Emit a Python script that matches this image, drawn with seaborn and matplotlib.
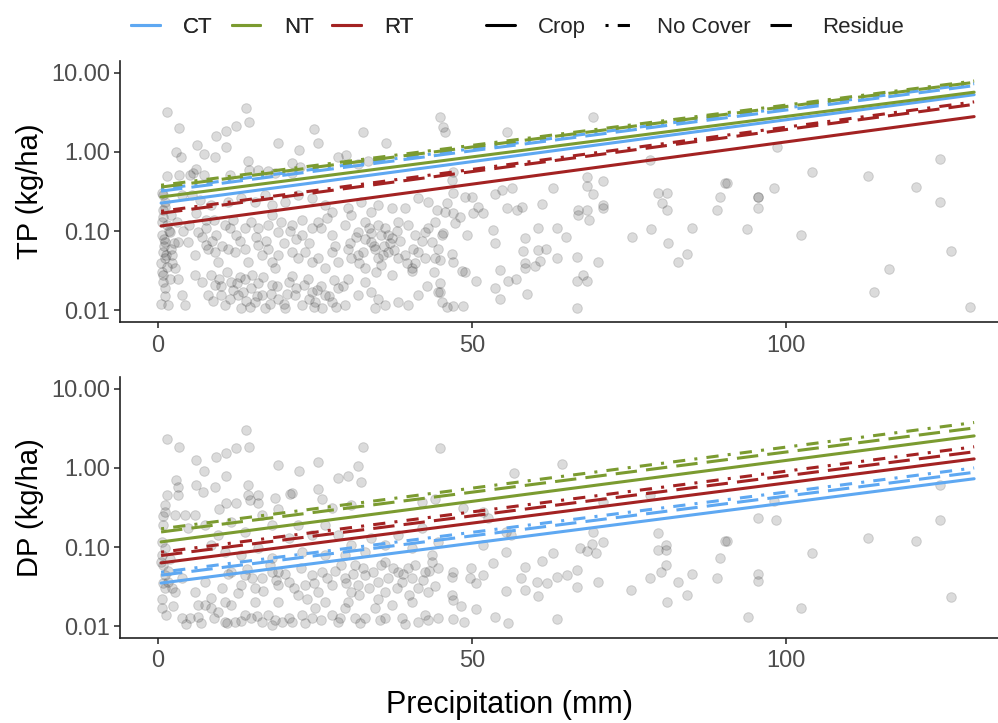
import numpy as np
import pandas as pd
import matplotlib
matplotlib.use("Agg")
import matplotlib.pyplot as plt
import seaborn as sns
from matplotlib.lines import Line2D

# ---------------- data ----------------
tillages = ["CT", "NT", "RT"]
covers = ["Crop", "No Cover", "Residue"]
tillage_colors = ["#5EA8F2", "#7B9B30", "#A32222"]

fit_precip = [0.5, 130.0]
# fitted TP (kg/ha) at start / end of precipitation range, per tillage x cover
tp_fit_start = {"CT": [0.226, 0.34, 0.32], "NT": [0.27, 0.38, 0.36], "RT": [0.116, 0.178, 0.168]}
tp_fit_end = {"CT": [5.3, 7.3, 6.9], "NT": [5.7, 7.9, 7.6], "RT": [2.8, 4.3, 4.0]}
# fitted DP (kg/ha)
dp_fit_start = {"CT": [0.035, 0.048, 0.044], "NT": [0.116, 0.17, 0.155], "RT": [0.063, 0.086, 0.078]}
dp_fit_end = {"CT": [0.73, 1.0, 0.88], "NT": [2.54, 3.75, 3.2], "RT": [1.3, 1.85, 1.6]}

tp_points = [
    (1.5, 3.2), (14.1, 3.6), (14.5, 2.4), (3.3, 2.0), (9.3, 1.6), (10.8, 1.85), (12.4, 2.13),
    (24.9, 1.95), (32.7, 1.78), (6.2, 1.23), (10.8, 1.17), (19.1, 1.29), (22.5, 1.06), (25.5, 1.29),
    (36.3, 1.29), (2.8, 1.0), (3.7, 0.87), (7.3, 0.93), (9.1, 0.86), (14.4, 0.77), (28.6, 0.86),
    (30.0, 0.92), (33.4, 0.77), (31.9, 0.70), (6.0, 0.61), (5.6, 0.54), (1.5, 0.49), (3.3, 0.51),
    (5.1, 0.51), (7.3, 0.51), (11.5, 0.51), (14.5, 0.59), (16.0, 0.59), (21.3, 0.72), (21.3, 0.55),
    (17.5, 0.57), (18.6, 0.54), (22.6, 0.65),
    (0.85, 0.286), (1.1, 0.235), (0.85, 0.185), (0.85, 0.152), (1.4, 0.119), (3.8, 0.286), (5.4, 0.286),
    (6.7, 0.247), (8.5, 0.213), (11.2, 0.235), (13.3, 0.26), (15.4, 0.235), (17.0, 0.286), (18.1, 0.213),
    (20.2, 0.235), (22.3, 0.286), (24.5, 0.26), (26.6, 0.213), (27.7, 0.176), (30.3, 0.194), (32.4, 0.235),
    (34.0, 0.176), (35.1, 0.213), (37.2, 0.194), (39.3, 0.194), (41.5, 0.26), (43.0, 0.235), (44.4, 0.185),
    (44.1, 0.131),
    (0.6, 0.089), (1.1, 0.073), (1.9, 0.098), (3.2, 0.073), (4.8, 0.073), (6.4, 0.098), (7.7, 0.108),
    (9.3, 0.089), (10.7, 0.119), (11.5, 0.108), (12.5, 0.089), (13.9, 0.108), (14.9, 0.131), (16.0, 0.108),
    (17.6, 0.119), (18.1, 0.16), (19.2, 0.098), (21.3, 0.119), (22.9, 0.089), (24.5, 0.108), (25.5, 0.131),
    (26.9, 0.145), (27.7, 0.089), (29.8, 0.119), (30.8, 0.16), (31.9, 0.098), (33.0, 0.131), (34.0, 0.073),
    (35.6, 0.089), (36.1, 0.108), (37.2, 0.081), (38.3, 0.131), (39.9, 0.119), (41.0, 0.089), (42.5, 0.098),
    (43.6, 0.073), (45.2, 0.089),
    (0.85, 0.055), (1.1, 0.045), (2.2, 0.050), (2.7, 0.034), (0.85, 0.028), (3.2, 0.025), (5.9, 0.050),
    (7.7, 0.067), (9.1, 0.055), (9.6, 0.041), (11.2, 0.060), (12.3, 0.055), (13.9, 0.060), (14.4, 0.041),
    (16.0, 0.067), (16.5, 0.050), (17.6, 0.060), (18.1, 0.041), (19.2, 0.050), (21.3, 0.055), (22.3, 0.045),
    (23.4, 0.055), (24.5, 0.041), (25.5, 0.045), (26.6, 0.034), (27.7, 0.055), (28.7, 0.041), (30.3, 0.060),
    (30.8, 0.045), (31.9, 0.050), (33.0, 0.034), (34.6, 0.060), (35.1, 0.045), (35.6, 0.037), (36.7, 0.055),
    (38.3, 0.045), (39.3, 0.050), (40.4, 0.034), (41.5, 0.055), (42.5, 0.045), (44.1, 0.045), (44.6, 0.060),
    (0.85, 0.023), (1.1, 0.019), (1.6, 0.0116), (3.8, 0.0155), (4.3, 0.0116), (5.9, 0.028), (7.0, 0.023),
    (8.0, 0.0155), (8.5, 0.028), (9.1, 0.021), (10.1, 0.0155), (10.7, 0.0116), (11.7, 0.023), (12.8, 0.0155),
    (13.3, 0.0105), (13.9, 0.025), (14.9, 0.019), (15.4, 0.0127), (16.5, 0.0155), (17.0, 0.0105), (18.1, 0.021),
    (18.6, 0.034), (19.2, 0.014), (20.2, 0.0105), (20.8, 0.023), (21.8, 0.0155), (22.9, 0.0116), (23.9, 0.025),
    (24.5, 0.017), (25.0, 0.0127), (26.1, 0.0105), (26.6, 0.0155), (27.7, 0.0127), (28.7, 0.019), (29.8, 0.0116),
    (30.3, 0.025), (31.9, 0.0155), (33.0, 0.023), (34.0, 0.017), (34.6, 0.0105), (35.1, 0.014), (36.1, 0.0116),
    (37.2, 0.028), (38.3, 0.0127), (39.9, 0.0116), (40.4, 0.031), (41.5, 0.0155), (42.8, 0.020), (44.6, 0.017),
    (45.2, 0.0127),
    (1.5, 0.035), (2.0, 0.06), (0.5, 0.04), (1.0, 0.065), (12.0, 0.018), (14.0, 0.013), (16.0, 0.022),
    (18.0, 0.016), (20.0, 0.012), (22.0, 0.019), (24.0, 0.014), (26.0, 0.02), (28.0, 0.024), (11.0, 0.03),
    (13.0, 0.026), (15.0, 0.028), (10.0, 0.02), (33.0, 0.08), (34.0, 0.095), (36.0, 0.065), (37.0, 0.07),
    (38.0, 0.1), (35.0, 0.12), (20.0, 0.07), (22.0, 0.08), (7.0, 0.085), (8.0, 0.06), (4.0, 0.1), (3.0, 0.13),
    (2.0, 0.16), (9.0, 0.14), (42.0, 0.075), (43.0, 0.11), (44.0, 0.03), (45.0, 0.022), (41.0, 0.04),
    (0.7, 0.3), (1.2, 0.2), (0.6, 0.13), (1.8, 0.1), (0.9, 0.08), (1.3, 0.05), (0.6, 0.03), (1.9, 0.025),
    (1.2, 0.015), (2.3, 0.04), (2.6, 0.07), (0.5, 0.012),
    (8.8, 0.013), (9.8, 0.025), (11.4, 0.014), (12.6, 0.022), (13.6, 0.017), (14.6, 0.011), (15.8, 0.015),
    (16.8, 0.026), (17.8, 0.012), (19.0, 0.02), (20.6, 0.016), (21.4, 0.027), (23.2, 0.021), (24.8, 0.011),
    (25.4, 0.018), (27.2, 0.015), (28.4, 0.011), (29.4, 0.02),
    (30.6, 0.07), (31.6, 0.085), (32.6, 0.055), (33.6, 0.11), (34.4, 0.065), (35.8, 0.05), (36.6, 0.09),
    (37.6, 0.058), (38.6, 0.075), (39.6, 0.04), (40.6, 0.06), (32.0, 0.04), (34.8, 0.03),
    (5.0, 0.12), (6.0, 0.17), (7.6, 0.14), (8.6, 0.075), (10.2, 0.065), (12.0, 0.14), (13.0, 0.075),
    (15.6, 0.085), (17.2, 0.075), (19.6, 0.13), (21.0, 0.1), (23.0, 0.14), (24.0, 0.07), (26.0, 0.11),
    (28.2, 0.065),
    (44.9, 2.77), (45.4, 2.07), (45.7, 1.79), (69.3, 2.77), (55.6, 1.79), (47.0, 0.56), (46.8, 0.44),
    (47.0, 0.30), (48.9, 0.27), (50.0, 0.27), (53.7, 0.29), (54.8, 0.33), (56.4, 0.35), (62.9, 0.35),
    (68.3, 0.48), (70.9, 0.43), (68.3, 0.37), (69.3, 0.29), (79.6, 0.30), (81.1, 0.30), (80.3, 0.226),
    (81.1, 0.185), (78.3, 0.79), (90.3, 0.41), (89.5, 0.27), (89.0, 0.185), (46.0, 0.226), (45.7, 0.174),
    (47.0, 0.169), (48.1, 0.15), (47.3, 0.126), (50.2, 0.169), (51.8, 0.169), (51.0, 0.20), (55.6, 0.195),
    (57.2, 0.185), (58.0, 0.20), (61.1, 0.22), (66.9, 0.185), (68.3, 0.185), (66.9, 0.16), (68.6, 0.138),
    (70.9, 0.213), (70.9, 0.195), (45.4, 0.094), (49.2, 0.089), (53.3, 0.103), (53.7, 0.070), (58.4, 0.081),
    (60.5, 0.109), (63.5, 0.109), (65.0, 0.084), (75.5, 0.084), (78.5, 0.106), (81.2, 0.070), (85.0, 0.109),
    (58.1, 0.056), (60.5, 0.0575), (61.8, 0.059), (46.8, 0.051), (47.0, 0.0405), (44.9, 0.043), (63.5, 0.0455),
    (66.7, 0.047), (58.4, 0.039), (60.8, 0.042), (60.0, 0.036), (70.1, 0.0405), (84.2, 0.051), (82.8, 0.0405),
    (48.4, 0.031), (48.9, 0.030), (54.5, 0.032), (58.4, 0.034), (67.7, 0.0277), (66.7, 0.0233), (68.3, 0.0233),
    (50.6, 0.0233), (57.0, 0.0247), (55.7, 0.0233), (44.9, 0.0169), (53.7, 0.019), (58.8, 0.016), (54.5, 0.0138),
    (46.0, 0.0109), (47.0, 0.0112), (48.6, 0.0112), (66.7, 0.0106),
    (98.6, 1.16), (104.1, 0.56), (113.1, 0.50), (124.5, 0.82), (90.6, 0.41), (98.1, 0.35), (120.7, 0.36),
    (95.5, 0.27), (95.5, 0.27), (95.5, 0.195), (124.5, 0.23), (93.9, 0.106), (102.4, 0.089), (126.3, 0.056),
    (116.4, 0.033), (114.0, 0.0169), (129.3, 0.011),
]

dp_points = [
    (1.5, 2.35), (3.3, 1.86), (14.1, 3.03), (14.5, 1.86), (6.0, 1.26), (7.3, 0.92), (9.3, 1.39), (10.8, 1.55),
    (12.4, 1.77), (10.8, 0.78), (19.1, 1.09), (22.5, 0.92), (25.5, 1.2), (32.7, 1.84), (31.8, 1.07), (28.6, 0.74),
    (30.3, 0.78), (32.4, 0.67), (2.8, 0.70), (3.2, 0.58), (6.0, 0.61), (9.1, 0.58), (14.4, 0.61), (21.3, 0.48),
    (25.5, 0.54), (3.2, 0.455), (1.5, 0.45), (7.2, 0.49), (10.9, 0.357), (12.4, 0.357), (14.4, 0.455),
    (16.0, 0.455), (14.6, 0.39), (16.0, 0.357), (18.6, 0.42), (21.0, 0.47), (9.7, 0.30), (1.1, 0.34),
    (1.1, 0.28), (19.2, 0.30), (26.1, 0.41), (27.7, 0.31), (30.8, 0.34), (42.0, 0.375), (44.1, 0.41),
    (0.85, 0.25), (2.7, 0.254), (4.3, 0.254), (5.9, 0.254), (0.85, 0.19), (0.6, 0.117), (0.6, 0.079),
    (1.1, 0.096), (4.8, 0.172), (7.5, 0.19), (9.6, 0.142), (11.7, 0.209), (13.9, 0.156), (16.5, 0.254),
    (18.1, 0.19), (20.8, 0.129), (22.3, 0.19), (24.5, 0.142), (26.6, 0.19), (28.7, 0.142), (30.8, 0.106),
    (33.0, 0.087), (34.0, 0.129), (36.1, 0.106), (38.3, 0.142), (40.4, 0.096), (42.0, 0.172), (43.6, 0.079),
    (44.6, 0.117), (8.5, 0.106), (10.7, 0.087), (13.3, 0.079), (16.0, 0.096), (18.1, 0.072), (22.9, 0.087),
    (26.6, 0.079), (29.8, 0.079),
    (1.1, 0.044), (0.85, 0.059), (1.6, 0.036), (2.7, 0.027), (3.8, 0.040), (1.1, 0.030), (5.9, 0.027),
    (7.5, 0.036), (13.3, 0.033), (15.4, 0.030), (16.5, 0.040), (18.1, 0.049), (19.2, 0.033), (20.8, 0.036),
    (22.3, 0.0247), (23.4, 0.033), (24.5, 0.044), (25.5, 0.027), (27.7, 0.033), (29.8, 0.040), (30.8, 0.027),
    (31.9, 0.033), (33.0, 0.044), (35.1, 0.036), (35.6, 0.059), (36.1, 0.027), (38.3, 0.049), (38.8, 0.036),
    (39.9, 0.054), (40.4, 0.040), (41.5, 0.030), (42.5, 0.049), (43.0, 0.027), (44.6, 0.054), (43.6, 0.065),
    (31.4, 0.059), (36.1, 0.065), (13.9, 0.044), (11.7, 0.049), (19.2, 0.049),
    (0.6, 0.0167), (3.8, 0.0125), (5.1, 0.0125), (6.4, 0.013), (7.5, 0.0185), (8.5, 0.0167), (9.6, 0.0152),
    (10.7, 0.0203), (11.7, 0.0185), (12.3, 0.0113), (10.7, 0.0113), (13.9, 0.0138), (14.9, 0.0125),
    (15.4, 0.0203), (16.5, 0.0113), (17.6, 0.0138), (18.1, 0.0103), (19.7, 0.0113), (19.2, 0.0203),
    (21.3, 0.0113), (22.9, 0.0138), (24.5, 0.0125), (25.0, 0.0167), (26.6, 0.0203), (27.7, 0.0138),
    (28.7, 0.0113), (29.8, 0.0167), (30.3, 0.0203), (31.4, 0.0125), (33.0, 0.0125), (34.6, 0.0167),
    (36.1, 0.0125), (37.2, 0.0185), (38.8, 0.0125), (40.4, 0.0203), (41.5, 0.0113), (42.5, 0.0138),
    (44.6, 0.0125), (6.4, 0.0185), (8.5, 0.0224),
    (0.7, 0.022), (1.3, 0.014), (0.8, 0.035), (1.6, 0.05), (0.5, 0.065), (1.9, 0.07), (2.4, 0.018), (2.2, 0.03),
    (28.2, 0.05), (29.2, 0.06), (30.0, 0.035), (31.0, 0.045), (32.0, 0.025), (32.6, 0.055), (33.6, 0.03),
    (34.2, 0.048), (35.0, 0.022), (36.6, 0.04), (37.4, 0.055), (38.0, 0.03), (39.0, 0.045), (40.0, 0.025),
    (41.0, 0.06), (42.2, 0.038), (43.2, 0.05), (44.2, 0.032),
    (10.2, 0.03), (11.2, 0.045), (12.8, 0.026), (14.2, 0.052), (15.0, 0.04), (16.8, 0.028), (17.8, 0.06),
    (18.8, 0.038), (20.2, 0.045), (21.6, 0.03), (22.8, 0.055), (23.8, 0.022), (24.8, 0.035), (26.2, 0.048),
    (27.0, 0.04),
    (4.4, 0.0105), (6.8, 0.011), (9.0, 0.0125), (11.0, 0.0108), (13.2, 0.0115), (15.8, 0.0135), (18.6, 0.0118),
    (20.8, 0.0128), (23.4, 0.011), (26.0, 0.0118), (29.0, 0.0125), (32.2, 0.011), (35.4, 0.0118),
    (39.4, 0.0105), (43.0, 0.0118),
    (44.9, 1.81), (64.4, 1.11), (56.7, 0.86), (70.9, 0.375), (78.4, 0.46), (48.6, 0.31), (51.8, 0.28),
    (52.6, 0.231), (69.3, 0.156), (70.9, 0.117), (79.7, 0.149), (81.0, 0.106), (79.7, 0.092), (81.0, 0.092),
    (90.3, 0.119), (89.5, 0.073), (62.9, 0.083), (61.1, 0.067), (55.5, 0.087), (56.3, 0.142), (55.5, 0.156),
    (51.8, 0.106), (67.2, 0.096), (68.3, 0.089), (69.8, 0.083), (69.1, 0.108), (53.4, 0.062), (58.4, 0.056),
    (66.8, 0.051), (47.0, 0.049), (46.8, 0.042), (49.9, 0.054), (49.7, 0.040), (51.8, 0.044),
    (50.7, 0.035), (57.9, 0.041), (60.3, 0.036), (61.9, 0.035), (58.4, 0.029), (60.6, 0.024), (63.5, 0.042),
    (65.1, 0.044), (70.1, 0.036), (66.8, 0.031), (78.3, 0.041), (80.2, 0.049), (81.0, 0.059), (85.0, 0.046),
    (82.9, 0.036), (84.2, 0.0247), (89.0, 0.040), (75.4, 0.029), (81.1, 0.0203), (55.4, 0.028), (46.8, 0.0247),
    (47.0, 0.0215), (48.2, 0.0177), (50.6, 0.0165), (53.7, 0.0132), (55.8, 0.0109), (47.0, 0.0123),
    (48.7, 0.0113), (63.5, 0.0123),
    (98.2, 0.38), (95.5, 0.235), (98.5, 0.22), (124.5, 0.60), (124.5, 0.22), (90.6, 0.119), (113.1, 0.131),
    (120.7, 0.119), (104.2, 0.083), (95.5, 0.046), (95.5, 0.0375), (126.3, 0.0236), (102.4, 0.0171),
    (94.0, 0.0132),
]

x_ticks = [0, 50, 100]
y_ticks = [0.01, 0.1, 1, 10]
y_ticklabels = ["0.01", "0.10", "1.00", "10.00"]
y_titles = ["TP (kg/ha)", "DP (kg/ha)"]
x_title = "Precipitation (mm)"

# ---------------- build tables ----------------
def fit_table(start, end):
    rows = []
    for t in tillages:
        for i, c in enumerate(covers):
            rows.append({"precip": fit_precip[0], "value": start[t][i], "tillage": t, "cover": c})
            rows.append({"precip": fit_precip[1], "value": end[t][i], "tillage": t, "cover": c})
    return pd.DataFrame(rows)

tp_pts = pd.DataFrame(tp_points, columns=["precip", "value"])
dp_pts = pd.DataFrame(dp_points, columns=["precip", "value"])
tp_fit = fit_table(tp_fit_start, tp_fit_end)
dp_fit = fit_table(dp_fit_start, dp_fit_end)

# ---------------- style ----------------
sns.set_theme(style="ticks")
plt.rcParams["font.family"] = ["Liberation Sans", "DejaVu Sans"]

palette = dict(zip(tillages, tillage_colors))
dash_map = {"Crop": "", "No Cover": (1, 3, 4, 3), "Residue": (7, 3)}
LW = 2.2
tick_color = "#4D4D4D"

fig = plt.figure(figsize=(9.98, 7.23), dpi=100)
ax1 = fig.add_axes([0.1202, 0.5546, 0.8798, 0.361])
ax2 = fig.add_axes([0.1202, 0.1176, 0.8798, 0.361])

for ax, pts, fit, ytitle in [(ax1, tp_pts, tp_fit, y_titles[0]), (ax2, dp_pts, dp_fit, y_titles[1])]:
    ax.set_yscale("log")
    sns.scatterplot(data=pts, x="precip", y="value", ax=ax, s=48, color="black",
                    alpha=0.14, edgecolor="black", linewidth=0.7, legend=False, zorder=1)
    sns.lineplot(data=fit, x="precip", y="value", hue="tillage", style="cover",
                 palette=palette, dashes=dash_map, linewidth=LW, ax=ax,
                 estimator=None, legend=False, zorder=3)
    ax.set_xlim(-6.05, 133.8)
    ax.set_ylim(10 ** -2.15, 10 ** 1.15)
    ax.set_xticks(x_ticks)
    ax.set_xticklabels([str(v) for v in x_ticks])
    ax.set_yticks(y_ticks)
    ax.set_yticklabels(y_ticklabels)
    ax.minorticks_off()
    ax.tick_params(axis="both", labelsize=17, labelcolor=tick_color, color="#222222",
                   length=4, width=1.1, direction="out")
    ax.tick_params(axis="x", pad=5)
    ax.tick_params(axis="y", pad=3)
    for s in ["top", "right"]:
        ax.spines[s].set_visible(False)
    for s in ["left", "bottom"]:
        ax.spines[s].set_color("#222222")
        ax.spines[s].set_linewidth(1.2)
    ax.set_ylabel(ytitle, fontsize=21, color="black", labelpad=5)
    ax.set_xlabel("")
    ax.grid(False)

ax2.set_xlabel(x_title, fontsize=22, color="black", va="center")
ax2.xaxis.set_label_coords(0.444, -0.258)

# ---------------- legends ----------------
color_handles = [Line2D([0], [0], color=c, lw=LW) for c in tillage_colors]
style_handles = []
for c in covers:
    if dash_map[c]:
        style_handles.append(Line2D([0], [0], color="black", lw=LW, dashes=dash_map[c]))
    else:
        style_handles.append(Line2D([0], [0], color="black", lw=LW))
leg_kw = dict(ncol=3, loc="center left", frameon=False, fontsize=16, handlelength=1.3,
              handletextpad=1.05, columnspacing=0.85, borderpad=0.4, borderaxespad=0.5)
leg1 = fig.legend(color_handles, tillages, bbox_to_anchor=(0.111, 0.962), **leg_kw)
leg2 = fig.legend(style_handles, covers, bbox_to_anchor=(0.467, 0.962), **leg_kw)
fig.add_artist(leg1)

fig.savefig("out.png", dpi=100)
